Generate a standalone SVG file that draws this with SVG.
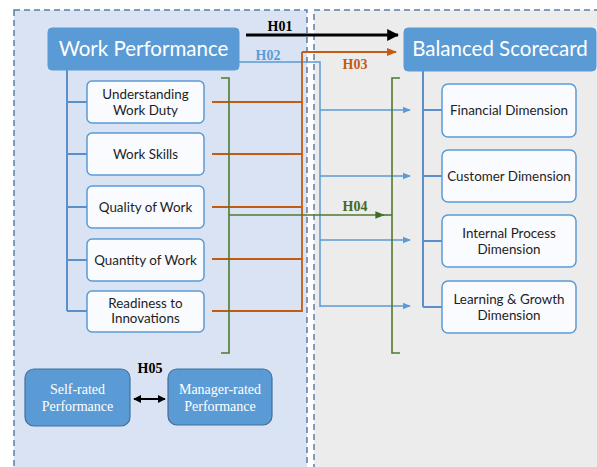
<svg xmlns="http://www.w3.org/2000/svg" width="597" height="467" viewBox="0 0 597 467">
  <style>
    .panel { stroke: #5a7fa8; stroke-width: 1.5; stroke-dasharray: 6 4; }
    .head rect { fill: #5b9bd5; stroke: #5b9bd5; stroke-width: 1; }
    .head text { fill: #ffffff; font-family: Lato, "Open Sans", sans-serif; font-size: 20.5px; text-anchor: middle; }
    .item rect { fill: #f9fbfe; stroke: #5b9bd5; stroke-width: 1.5; }
    .item text { fill: #1e1e1e; font-family: Lato, "Open Sans", sans-serif; font-size: 13.4px; text-anchor: middle; }
    .rate rect { fill: #5b9bd5; stroke: #41719c; stroke-width: 1.2; }
    .rate text { fill: #ffffff; font-family: "Liberation Serif", serif; font-size: 14px; text-anchor: middle; }
    .trunk { fill: none; stroke: #5b8fc9; stroke-width: 2; }
    .h { font-family: "Liberation Serif", serif; font-weight: bold; font-size: 14px; text-anchor: middle; }
    .blue { fill: none; stroke: #5b9bd5; stroke-width: 1.5; }
    .orange { fill: none; stroke: #c55a11; stroke-width: 1.8; }
    .green { fill: none; stroke: #4e7a32; stroke-width: 1.6; }
  </style>
  <defs>
    <marker id="arrBlack" viewBox="0 0 10 10" refX="9" refY="5" markerWidth="4" markerHeight="4" orient="auto">
      <path d="M0,0 L10,5 L0,10 z" fill="#000000"/>
    </marker>
    <marker id="arrBlue" viewBox="0 0 10 10" refX="9" refY="5" markerWidth="5.5" markerHeight="5.5" orient="auto">
      <path d="M0,1 L10,5 L0,9 z" fill="#5b9bd5"/>
    </marker>
    <marker id="arrOrange" viewBox="0 0 10 10" refX="9" refY="5" markerWidth="5.5" markerHeight="5.5" orient="auto">
      <path d="M0,1 L10,5 L0,9 z" fill="#c55a11"/>
    </marker>
    <marker id="arrGreen" viewBox="0 0 10 10" refX="9" refY="5" markerWidth="6" markerHeight="6" orient="auto">
      <path d="M0,1 L10,5 L0,9 z" fill="#3f6a28"/>
    </marker>
    <marker id="arrBoth" viewBox="0 0 10 10" refX="9" refY="5" markerWidth="4" markerHeight="4" orient="auto-start-reverse">
      <path d="M0,0 L10,5 L0,10 z" fill="#000000"/>
    </marker>
  </defs>

  <!-- background panels -->
  <rect x="0" y="0" width="597" height="467" fill="#ffffff"/>
  <rect class="panel" x="14" y="10" width="293" height="470" fill="#dae3f3"/>
  <rect class="panel" x="314" y="10" width="300" height="470" fill="#ececec"/>

  <!-- connectors -->
  <g id="connectors">
    <!-- Work Performance tree -->
    <path class="trunk" d="M67,70 V311 M67,102 H87 M67,154 H87 M67,207 H87 M67,260 H87 M67,311 H87"/>
    <!-- Balanced Scorecard tree -->
    <path class="trunk" d="M423,71 V307 M423,110 H442 M423,176 H442 M423,241 H442 M423,307 H442"/>

    <!-- H01 -->
    <line x1="246" y1="35" x2="398" y2="35" stroke="#000000" stroke-width="3" marker-end="url(#arrBlack)"/>

    <!-- H02 -->
    <path class="blue" d="M239,62 H320 V307"/>
    <line class="blue" x1="320" y1="110" x2="410" y2="110" marker-end="url(#arrBlue)"/>
    <line class="blue" x1="320" y1="176" x2="410" y2="176" marker-end="url(#arrBlue)"/>
    <line class="blue" x1="320" y1="240" x2="410" y2="240" marker-end="url(#arrBlue)"/>
    <line class="blue" x1="320" y1="306" x2="410" y2="306" marker-end="url(#arrBlue)"/>

    <!-- H03 -->
    <path class="orange" d="M212,102 H302 M212,154 H302 M212,207 H302 M212,259 H302 M212,311 H302 V52"/>
    <path class="orange" d="M302,52 H396" marker-end="url(#arrOrange)"/>

    <!-- H04 brackets -->
    <path class="green" d="M221,78 H229 V353 H221"/>
    <path class="green" d="M400,78 H392 V353 H400"/>
    <path class="green" d="M229,215 H384" marker-end="url(#arrGreen)"/>
    <path class="green" d="M380,215 H392"/>

    <!-- H05 -->
    <line x1="134" y1="399" x2="165" y2="399" stroke="#000000" stroke-width="2" marker-start="url(#arrBoth)" marker-end="url(#arrBoth)"/>
  </g>

  <!-- hypothesis labels -->
  <g id="labels">
    <text class="h" x="280" y="31" fill="#000000">H01</text>
    <text class="h" x="268" y="60" fill="#5b9bd5">H02</text>
    <text class="h" x="355" y="69" fill="#c55a11">H03</text>
    <text class="h" x="355" y="211" fill="#3f6a28">H04</text>
    <text class="h" x="150" y="373" fill="#000000">H05</text>
  </g>

  <g id="work-performance" class="head">
    <rect x="48" y="28" width="191" height="42" rx="4"/>
    <text x="143.5" y="56">Work Performance</text>
  </g>
  <g id="balanced-scorecard" class="head">
    <rect x="404" y="28" width="192" height="43" rx="4"/>
    <text x="500" y="56">Balanced Scorecard</text>
  </g>

  <g id="understanding-work-duty" class="item">
    <rect x="87" y="81" width="117" height="42" rx="5"/>
    <text x="145.5" y="99">Understanding</text>
    <text x="145.5" y="115">Work Duty</text>
  </g>
  <g id="work-skills" class="item">
    <rect x="87" y="133" width="117" height="42" rx="5"/>
    <text x="145.5" y="159">Work Skills</text>
  </g>
  <g id="quality-of-work" class="item">
    <rect x="87" y="186" width="117" height="42" rx="5"/>
    <text x="145.5" y="212">Quality of Work</text>
  </g>
  <g id="quantity-of-work" class="item">
    <rect x="87" y="239" width="117" height="42" rx="5"/>
    <text x="145.5" y="265">Quantity of Work</text>
  </g>
  <g id="readiness-to-innovations" class="item">
    <rect x="87" y="291" width="117" height="41" rx="5"/>
    <text x="145.5" y="308">Readiness to</text>
    <text x="145.5" y="323">Innovations</text>
  </g>

  <g id="financial-dimension" class="item">
    <rect x="442" y="84" width="134" height="53" rx="6"/>
    <text x="509" y="115">Financial Dimension</text>
  </g>
  <g id="customer-dimension" class="item">
    <rect x="442" y="150" width="134" height="52" rx="6"/>
    <text x="509" y="181">Customer Dimension</text>
  </g>
  <g id="internal-process-dimension" class="item">
    <rect x="442" y="215" width="134" height="52" rx="6"/>
    <text x="509" y="238">Internal Process</text>
    <text x="509" y="254">Dimension</text>
  </g>
  <g id="learning-growth-dimension" class="item">
    <rect x="442" y="281" width="134" height="52" rx="6"/>
    <text x="509" y="304">Learning &amp; Growth</text>
    <text x="509" y="320">Dimension</text>
  </g>

  <g id="self-rated-performance" class="rate">
    <rect x="25" y="369" width="105" height="57" rx="9"/>
    <text x="77.5" y="394">Self-rated</text>
    <text x="77.5" y="411">Performance</text>
  </g>
  <g id="manager-rated-performance" class="rate">
    <rect x="168" y="369" width="104" height="56" rx="9"/>
    <text x="220" y="394">Manager-rated</text>
    <text x="220" y="411">Performance</text>
  </g>
</svg>
